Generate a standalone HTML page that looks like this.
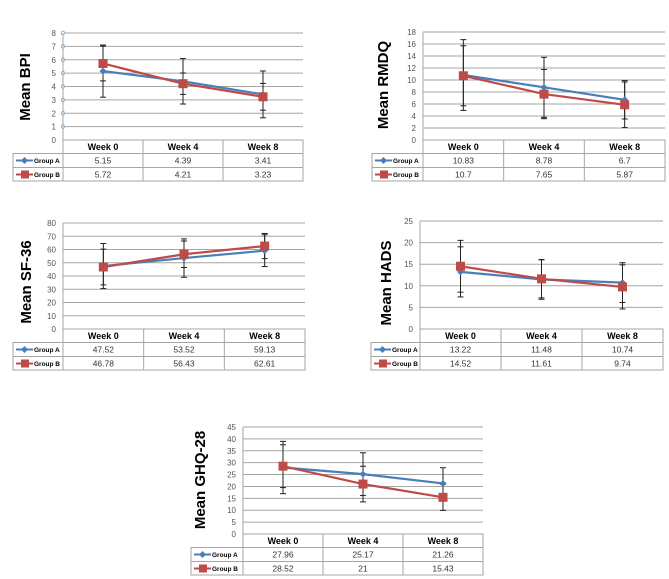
<!DOCTYPE html>
<html><head><meta charset="utf-8"><style>
body{margin:0;background:#fff;}
svg{display:block;font-family:"Liberation Sans",sans-serif;}
</style></head><body>
<svg id="c" width="669" height="579" viewBox="0 0 669 579"></svg>
<script>
const weeks=["Week 0","Week 4","Week 8"];
const bpiA=[5.15,4.39,3.41], bpiB=[5.72,4.21,3.23];
const bpiErrA=[1.95,1.7,1.75], bpiErrB=[1.3,0.8,1.0];
const rmdqA=[10.83,8.78,6.7], rmdqB=[10.7,7.65,5.87];
const rmdqErrA=[5.9,5.0,3.2], rmdqErrB=[5.0,4.1,3.8];
const sfA=[47.52,53.52,59.13], sfB=[46.78,56.43,62.61];
const sfErrA=[17,14.5,12], sfErrB=[13.5,10,9.5];
const hadsA=[13.22,11.48,10.74], hadsB=[14.52,11.61,9.74];
const hadsErrA=[5.8,4.6,4.6], hadsErrB=[6,4.4,5.1];
const ghqA=[27.96,25.17,21.26], ghqB=[28.52,21,15.43];
const ghqErrA=[11,9,6.6], ghqErrB=[9,7.5,5.5];
const bpiTicks=[0,1,2,3,4,5,6,7,8];
const rmdqTicks=[0,2,4,6,8,10,12,14,16,18];
const sfTicks=[0,10,20,30,40,50,60,70,80];
const hadsTicks=[0,5,10,15,20,25];
const ghqTicks=[0,5,10,15,20,25,30,35,40,45];

const svg=document.getElementById('c');
const NS="http://www.w3.org/2000/svg";
function mk(tag,attrs,parent){const e=document.createElementNS(NS,tag);for(const k in attrs)e.setAttribute(k,attrs[k]);(parent||svg).appendChild(e);return e;}
function txt(s,attrs,parent){const t=mk('text',attrs,parent);t.textContent=s;return t;}

function chart(name,label,ticks,A,B,eA,eB,g){
  const grp=mk('g',{});
  
  
  const max=ticks[ticks.length-1];
  const y=v=>g.bot-(v/max)*(g.bot-g.top);
  const cw=(g.R-g.L)/3;
  const x=i=>g.L+cw*(i+0.5);
  ticks.forEach(t=>{
    const ln=mk('line',{x1:g.L,x2:g.R,y1:y(t),y2:y(t),stroke:'#a6a6a6','stroke-width':1},grp);
    
    
    const tl=txt(String(t),{x:g.L-7,y:y(t)+3,'font-size':8,fill:'#555','text-anchor':'end'},grp);
    
    
    if(g.circles&&t>0){const c=mk('circle',{cx:g.L,cy:y(t),r:1.8,fill:'#fff',stroke:'#7aa6c8','stroke-width':0.8},grp);
      
      }
  });
  mk('line',{x1:g.L,x2:g.L,y1:g.top,y2:g.bot,stroke:'#a6a6a6'},grp);
  const yl=txt(label,{x:0,y:0,'font-size':15,'font-weight':'bold',fill:'#000','text-anchor':'middle',transform:`translate(${g.lx},${g.ly}) rotate(-90)`},grp);
  
  
  const r1=g.bot+13.5, r2=r1+14, r3=r2+13.5;
  const tb=mk('g',{},grp);
  
  
  const st={stroke:'#a6a6a6','stroke-width':1,fill:'none'};
  mk('rect',Object.assign({x:g.L,y:g.bot,width:g.R-g.L,height:r3-g.bot},st),tb);
  mk('rect',Object.assign({x:g.tl,y:r1,width:g.R-g.tl,height:r3-r1},st),tb);
  mk('line',Object.assign({x1:g.tl,x2:g.R,y1:r2,y2:r2},st),tb);
  for(let i=1;i<3;i++)mk('line',Object.assign({x1:g.L+cw*i,x2:g.L+cw*i,y1:g.bot,y2:r3},st),tb);
  weeks.forEach((w,i)=>{const h=txt(w,{x:x(i),y:g.bot+10,'font-size':9,'font-weight':'bold','text-anchor':'middle'},tb);
    
    
    const a=txt(String(A[i]),{x:x(i),y:r1+10,'font-size':8.5,'text-anchor':'middle',fill:'#333'},tb);
    
    
    const b=txt(String(B[i]),{x:x(i),y:r2+10,'font-size':8.5,'text-anchor':'middle',fill:'#333'},tb);
    
    });
  const la=mk('g',{},tb);
  
  
  mk('line',{x1:g.tl+3,x2:g.tl+20,y1:r1+7,y2:r1+7,stroke:'#4a7ebb','stroke-width':2},la);
  mk('rect',{x:g.tl+9,y:r1+4.5,width:5,height:5,fill:'#4a7ebb',transform:`rotate(45 ${g.tl+11.5} ${r1+7})`},la);
  txt('Group A',{x:g.tl+21,y:r1+9.5,'font-size':6.5,'font-weight':'bold'},la);
  const lb=mk('g',{},tb);
  
  
  mk('line',{x1:g.tl+3,x2:g.tl+20,y1:r2+7,y2:r2+7,stroke:'#be4b48','stroke-width':2},lb);
  mk('rect',{x:g.tl+8,y:r2+3,width:8,height:8,fill:'#be4b48'},lb);
  txt('Group B',{x:g.tl+21,y:r2+9.5,'font-size':6.5,'font-weight':'bold'},lb);
  [[A,eA],[B,eB]].forEach(([v,e],k)=>{v.forEach((val,i)=>{
    const eg=mk('g',{stroke:'#222','stroke-width':1},grp);
    
    
    const xx=x(i);
    mk('line',{x1:xx,x2:xx,y1:y(val-e[i]),y2:y(val+e[i])},eg);
    mk('line',{x1:xx-3,x2:xx+3,y1:y(val-e[i]),y2:y(val-e[i])},eg);
    mk('line',{x1:xx-3,x2:xx+3,y1:y(val+e[i]),y2:y(val+e[i])},eg);
  });});
  const la2=mk('polyline',{points:A.map((v,i)=>x(i)+','+y(v)).join(' '),fill:'none',stroke:'#4a7ebb','stroke-width':2.2},grp);
  
  
  const lb2=mk('polyline',{points:B.map((v,i)=>x(i)+','+y(v)).join(' '),fill:'none',stroke:'#be4b48','stroke-width':2.2},grp);
  
  
  A.forEach((v,i)=>{const m=mk('rect',{x:x(i)-2.5,y:y(v)-2.5,width:5,height:5,fill:'#4a7ebb',transform:`rotate(45 ${x(i)} ${y(v)})`},grp);
    
    });
  B.forEach((v,i)=>{const m=mk('rect',{x:x(i)-4.5,y:y(v)-4.5,width:9,height:9,fill:'#be4b48'},grp);
    
    });
}
chart('bpi','Mean BPI',bpiTicks,bpiA,bpiB,bpiErrA,bpiErrB,{L:63,R:303,top:33,bot:140,tl:13,lx:30,ly:87,circles:true});
chart('rmdq','Mean RMDQ',rmdqTicks,rmdqA,rmdqB,rmdqErrA,rmdqErrB,{L:423,R:665,top:32,bot:140,tl:372,lx:388,ly:85});
chart('sf36','Mean SF-36',sfTicks,sfA,sfB,sfErrA,sfErrB,{L:63,R:305,top:223,bot:329,tl:13,lx:31,ly:282});
chart('hads','Mean HADS',hadsTicks,hadsA,hadsB,hadsErrA,hadsErrB,{L:420,R:663,top:221,bot:329,tl:371,lx:391,ly:283});
chart('ghq28','Mean GHQ-28',ghqTicks,ghqA,ghqB,ghqErrA,ghqErrB,{L:243,R:483,top:427,bot:534,tl:191,lx:205,ly:480});
</script>
</body></html>
